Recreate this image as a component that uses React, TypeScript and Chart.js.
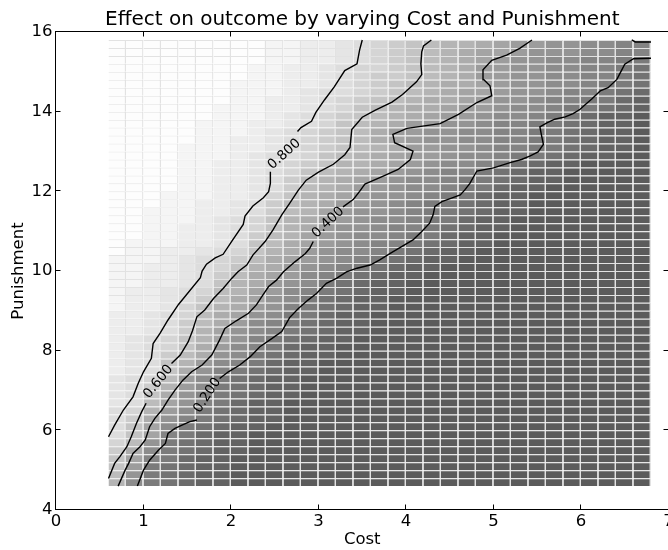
import { useEffect, useRef } from 'react';
import { Chart, registerables } from 'chart.js';

Chart.register(...registerables);

// ---- data -------------------------------------------------------------
const costEdges = [0.6, 0.8, 1.0, 1.2, 1.4, 1.6, 1.8, 2.0, 2.2, 2.4, 2.6, 2.8, 3.0, 3.2, 3.4, 3.6, 3.8, 4.0, 4.2, 4.4, 4.6, 4.8, 5.0, 5.2, 5.4, 5.6, 5.8, 6.0, 6.2, 6.4, 6.6, 6.8];
const punishmentEdges = [4.6, 4.8, 5.0, 5.2, 5.4, 5.6, 5.8, 6.0, 6.2, 6.4, 6.6, 6.8, 7.0, 7.2, 7.4, 7.6, 7.8, 8.0, 8.2, 8.4, 8.6, 8.8, 9.0, 9.2, 9.4, 9.6, 9.8, 10.0, 10.2, 10.4, 10.6, 10.8, 11.0, 11.2, 11.4, 11.6, 11.8, 12.0, 12.2, 12.4, 12.6, 12.8, 13.0, 13.2, 13.4, 13.6, 13.8, 14.0, 14.2, 14.4, 14.6, 14.8, 15.0, 15.2, 15.4, 15.6, 15.8];

// outcome level per cell, one character per cost column (spaces only group by 5),
// 0..k = 0.00..1.00 in steps of 0.05
const outcomeCodes = '0123456789abcdefghijk';
// rows from Punishment 4.6 (bottom) up to 15.6 (top)
const outcomeRows = [
  'b6432 11000 00000 00000 00000 00000 0',
  'c7432 11000 00000 00000 00000 00000 0',
  'd8432 11000 00000 00000 00000 00000 0',
  'd9542 11000 00000 00000 00000 00000 0',
  'ea643 21100 00000 00000 00000 00000 0',
  'fc743 21100 00000 00000 00000 00000 0',
  'gd954 21100 00000 00000 00000 00000 0',
  'gd964 32110 00000 00000 00000 00000 0',
  'gea75 43211 00000 00000 00000 00000 0',
  'gfb86 43211 00000 00000 00000 00000 0',
  'hgc97 54211 00000 00000 00000 00000 0',
  'hgda7 54321 10000 00000 00000 00000 0',
  'hgeb8 64321 10000 00000 00000 00000 0',
  'hgfc8 64321 10000 00000 00000 00000 0',
  'ihgda 75432 11000 00000 00000 00000 0',
  'ihgdb 86542 11000 00000 00000 00000 0',
  'ihgec a7643 21100 00000 00000 00000 0',
  'ihgfd a8654 21100 00000 00000 00000 0',
  'ihgfd b9754 32110 00000 00000 00000 0',
  'iihge b9765 43211 00000 00000 00000 0',
  'iihge ca865 43211 00000 00000 00000 0',
  'iihgf ca976 44211 00000 00000 00000 0',
  'jiihf dba87 54321 10000 00000 00000 0',
  'jiihg eca97 64321 10000 00000 00000 0',
  'jiihg fcb98 65432 11000 00000 00000 0',
  'jjiih gdba8 76432 11000 00000 00000 0',
  'jjiih geca9 86543 21100 00000 00000 0',
  'jjiih gfdba 87654 32110 00000 00000 0',
  'jjjih gfeca 98765 43211 00000 00000 0',
  'kjjii hgfdb a8766 54321 10000 00000 0',
  'kjjji ihgdc a9876 55432 11000 00000 0',
  'kkjji ihgec b9876 65442 11000 00000 0',
  'kkjji ihgfd ba877 65543 21100 00000 0',
  'kkjjj ihgfd ba987 66544 21100 00000 0',
  'kkjjj iihge cb987 76544 32110 00000 0',
  'kkkjj iihge cba88 76544 32110 00000 0',
  'kkkjj jiihf dba98 77654 42110 00000 0',
  'kkkkj jiihg ecba8 87665 44211 00000 0',
  'kkkkj jiihg ecba9 87665 44321 10000 0',
  'kkkkj jiihg fdcba 98765 54321 10000 0',
  'kkkkj jiihg fedbb a9876 65432 11000 0',
  'kkkkj jjihg gfdcb a9887 66544 32110 0',
  'kkkkj jjiih gfedc ba887 76554 43211 0',
  'kkkkk jjiih gfedc a9877 66554 43211 0',
  'kkkkk jjjih gfedc a8877 66554 43211 0',
  'kkkkk jjjii hgfdc ba887 76554 43211 0',
  'kkkkk kjjji hgfed cba98 87665 44211 0',
  'kkkkk kjjji ihgfd cbaa9 88766 54432 1',
  'kkkkk kkjji ihgfe dcbaa 98776 55442 1',
  'kkkkk kkjjj ihggf edcba 99877 65543 2',
  'kkkkk kkjjj iihgf edcba a9877 66544 3',
  'kkkkk kkkjj iihgf eedcb a8877 66554 3',
  'kkkkk kkkjj iihgf fedcb a8877 66554 3',
  'kkkkk kkkkj jiihg fedcb a9877 66554 4',
  'kkkkk kkkkj jiihg fedcb a9987 77665 5',
  'kkkkk kkkkj jiihg fedcb ba988 77665 5',
];

// contour lines [cost, punishment], split where the inline labels sit
const contour080Lower = [[0.60, 5.84], [0.67, 6.13], [0.77, 6.51], [0.88, 6.84], [0.94, 7.18], [1.00, 7.47], [1.09, 7.81], [1.11, 8.18], [1.19, 8.44], [1.28, 8.77], [1.40, 9.16], [1.65, 9.83], [1.67, 10.0], [1.72, 10.17], [1.82, 10.33], [1.91, 10.42], [2.01, 10.75], [2.14, 11.17], [2.16, 11.38], [2.25, 11.63], [2.37, 11.84], [2.43, 11.99], [2.45, 12.2], [2.45, 12.49]];
const contour080Upper = [[2.76, 13.5], [2.80, 13.6], [2.92, 13.76], [2.97, 13.98], [3.07, 14.3], [3.18, 14.62], [3.30, 15.03], [3.44, 15.2], [3.47, 15.55], [3.50, 15.8]];
const contour060Lower = [[0.60, 4.79], [0.67, 5.17], [0.73, 5.34], [0.81, 5.59], [0.86, 5.84], [0.92, 6.18], [0.98, 6.47], [1.03, 6.68]];
const contour060Upper = [[1.32, 7.68], [1.42, 7.89], [1.51, 8.22], [1.56, 8.5], [1.61, 8.85], [1.70, 9.02], [1.80, 9.31], [1.91, 9.56], [2.01, 9.82], [2.08, 9.98], [2.18, 10.15], [2.25, 10.40], [2.39, 10.74], [2.48, 11.03], [2.58, 11.41], [2.67, 11.70], [2.77, 12.03], [2.86, 12.28], [3.00, 12.48], [3.17, 12.68], [3.30, 12.92], [3.36, 13.1], [3.38, 13.55], [3.50, 13.86], [3.65, 14.04], [3.84, 14.24], [3.96, 14.43], [4.12, 14.75], [4.18, 14.93], [4.17, 15.2], [4.18, 15.5], [4.20, 15.65], [4.29, 15.8]];
const contour040Lower = [[0.71, 4.6], [0.79, 5.0], [0.83, 5.17], [0.88, 5.42], [0.96, 5.59], [1.02, 5.76], [1.07, 6.09], [1.13, 6.30], [1.21, 6.51], [1.28, 6.76], [1.36, 7.01], [1.45, 7.26], [1.55, 7.47], [1.67, 7.64], [1.78, 7.89], [1.87, 8.27], [1.93, 8.56], [2.06, 8.75], [2.20, 8.94], [2.29, 9.15], [2.35, 9.35], [2.43, 9.61], [2.52, 9.77], [2.60, 9.98], [2.73, 10.23], [2.85, 10.44], [2.90, 10.57], [2.94, 10.74]];
const contour040Upper = [[3.28, 11.61], [3.40, 11.8], [3.47, 12.0], [3.53, 12.18], [3.74, 12.38], [3.91, 12.55], [4.05, 12.80], [4.08, 13.01], [3.87, 13.22], [3.85, 13.43], [4.01, 13.58], [4.39, 13.70], [4.60, 13.93], [4.81, 14.23], [4.98, 14.40], [4.96, 14.65], [4.89, 14.80], [4.88, 15.05], [4.98, 15.29], [5.15, 15.42], [5.30, 15.59], [5.44, 15.8]];
const contour020Lower = [[0.93, 4.6], [1.00, 5.0], [1.07, 5.25], [1.17, 5.5], [1.25, 5.67], [1.28, 5.92], [1.36, 6.05], [1.44, 6.13], [1.53, 6.22], [1.61, 6.26]];
const contour020Upper = [[1.87, 7.30], [1.97, 7.47], [2.10, 7.64], [2.22, 7.85], [2.33, 8.10], [2.47, 8.31], [2.58, 8.48], [2.67, 8.83], [2.77, 9.06], [2.88, 9.27], [2.98, 9.44], [3.09, 9.69], [3.21, 9.82], [3.32, 9.98], [3.44, 10.07], [3.59, 10.15], [3.70, 10.28], [3.82, 10.44], [3.95, 10.61], [4.08, 10.78], [4.18, 10.99], [4.27, 11.20], [4.31, 11.41], [4.33, 11.62], [4.41, 11.74], [4.52, 11.83], [4.62, 11.91], [4.67, 12.03], [4.73, 12.2], [4.81, 12.51], [5.00, 12.59], [5.19, 12.72], [5.32, 12.80], [5.42, 12.89], [5.51, 12.99], [5.57, 13.18], [5.55, 13.39], [5.53, 13.62], [5.61, 13.72], [5.70, 13.81], [5.82, 13.87], [5.91, 13.95], [5.99, 14.06], [6.05, 14.18], [6.12, 14.31], [6.18, 14.44], [6.22, 14.52], [6.31, 14.60], [6.41, 14.81], [6.45, 14.98], [6.50, 15.19], [6.60, 15.33], [6.80, 15.34]];
const contour020Corner = [[6.58, 15.8], [6.62, 15.75], [6.80, 15.75]];

const contourLabelText = ['0.800', '0.600', '0.400', '0.200'];
const contourLabelCost = [2.61, 1.17, 3.11, 1.73];
const contourLabelPunishment = [12.93, 7.22, 11.22, 6.88];
const contourLabelAngle = [-42, -51, -43, -57];

const xTicks = [0, 1, 2, 3, 4, 5, 6, 7];
const yTicks = [4, 6, 8, 10, 12, 14, 16];

// ---- helpers ----------------------------------------------------------
const FONT = '"DejaVu Sans", "Liberation Sans", sans-serif';

function shade(v: number) {
  const g = Math.round(91 + 162 * v);
  return `rgb(${g},${g},${g})`;
}

function buildCells() {
  const data: { x: number; y: [number, number] }[] = [];
  const colors: string[] = [];
  const bad: string[] = [];
  outcomeRows.forEach((raw, i) => {
    const row = raw.replace(/ /g, '');
    if (row.length !== costEdges.length - 1) bad.push(i + ':' + row.length);
    for (let j = 0; j < row.length; j++) {
      const v = outcomeCodes.indexOf(row[j]) / 20;
      data.push({ x: (costEdges[j] + costEdges[j + 1]) / 2, y: [punishmentEdges[i], punishmentEdges[i + 1]] });
      colors.push(shade(v));
    }
  });
  if (bad.length) throw new Error('bad rows ' + bad.join(','));
  return { data, colors };
}

function lineDataset(points: number[][]) {
  return {
    type: 'line' as const,
    data: points.map(([x, y]) => ({ x, y })),
    borderColor: '#000',
    borderWidth: 1.4,
    pointRadius: 0,
    fill: false,
    tension: 0,
    order: 0,
  };
}

const frameTicks = {
  id: 'frameTicks',
  afterDraw(chart: any) {
    const { ctx, chartArea: a, scales } = chart;
    const xs = scales.x;
    const ys = scales.y;
    const L = Math.round(a.left) - 0.5;
    const R = Math.round(a.right) - 0.5;
    const T = Math.round(a.top) - 0.5;
    const B = Math.round(a.bottom) - 0.5;
    ctx.save();
    ctx.strokeStyle = '#000';
    ctx.lineWidth = 1;
    ctx.strokeRect(L, T, R - L, B - T);
    const len = 5;
    ctx.beginPath();
    xTicks.forEach((t) => {
      const px = Math.round(xs.getPixelForValue(t)) - 0.5;
      ctx.moveTo(px, B);
      ctx.lineTo(px, B - len);
      ctx.moveTo(px, T);
      ctx.lineTo(px, T + len);
    });
    yTicks.forEach((t) => {
      const py = Math.round(ys.getPixelForValue(t)) - 0.5;
      ctx.moveTo(L, py);
      ctx.lineTo(L + len, py);
      ctx.moveTo(R, py);
      ctx.lineTo(R - len, py);
    });
    ctx.stroke();
    ctx.restore();
  },
};

const contourLabels = {
  id: 'contourLabels',
  afterDatasetsDraw(chart: any) {
    const { ctx, scales } = chart;
    ctx.save();
    ctx.fillStyle = '#000';
    ctx.font = `13.5px ${FONT}`;
    ctx.textAlign = 'center';
    ctx.textBaseline = 'middle';
    contourLabelText.forEach((txt, k) => {
      const px = scales.x.getPixelForValue(contourLabelCost[k]);
      const py = scales.y.getPixelForValue(contourLabelPunishment[k]);
      ctx.save();
      ctx.translate(px, py);
      ctx.rotate((contourLabelAngle[k] * Math.PI) / 180);
      ctx.fillText(txt, 0, 0);
      ctx.restore();
    });
    ctx.restore();
  },
};

export default function App() {
  const ref = useRef<HTMLCanvasElement>(null);
  useEffect(() => {
    document.body.style.margin = '0';
    const canvas = ref.current;
    if (!canvas) return;
    const { data, colors } = buildCells();
    const chart = new Chart(canvas, {
      type: 'bar',
      data: {
        datasets: [
          lineDataset(contour080Lower),
          lineDataset(contour080Upper),
          lineDataset(contour060Lower),
          lineDataset(contour060Upper),
          lineDataset(contour040Lower),
          lineDataset(contour040Upper),
          lineDataset(contour020Lower),
          lineDataset(contour020Upper),
          lineDataset(contour020Corner),
          {
            type: 'bar',
            data: data as any,
            backgroundColor: colors,
            borderColor: '#e2e2e2',
            borderWidth: { top: 1, right: 1.4, bottom: 0, left: 0 },
            borderSkipped: false,
            inflateAmount: 0,
            barPercentage: 1,
            categoryPercentage: 1,
            order: 10,
          } as any,
        ],
      },
      options: {
        responsive: false,
        animation: false,
        devicePixelRatio: 1,
        events: [],
        layout: { padding: { left: 0, right: 11.5, top: 0, bottom: 0 } },
        plugins: {
          legend: { display: false },
          tooltip: { enabled: false },
          title: {
            display: true,
            text: 'Effect on outcome by varying Cost and Punishment',
            color: '#000',
            font: { family: FONT, size: 20, weight: 'normal', lineHeight: 1.1 },
            padding: { top: 9, bottom: 1 },
            fullSize: false,
          },
        },
        scales: {
          x: {
            type: 'linear',
            min: 0,
            max: 7,
            offset: false,
            afterBuildTicks: (s: any) => { s.ticks = xTicks.map((v) => ({ value: v })); },
            afterFit: (s: any) => { s.height = 40; },
            grid: { display: false, drawTicks: false },
            border: { display: false },
            ticks: { color: '#000', font: { family: FONT, size: 16.5 }, padding: 2, autoSkip: false, maxRotation: 0 },
            title: { display: true, text: 'Cost', color: '#000', font: { family: FONT, size: 16.5 }, padding: { top: 0, bottom: 0 } },
          },
          y: {
            type: 'linear',
            min: 4,
            max: 16,
            afterBuildTicks: (s: any) => { s.ticks = yTicks.map((v) => ({ value: v })); },
            afterFit: (s: any) => { s.width = 56; },
            grid: { display: false, drawTicks: false },
            border: { display: false },
            ticks: { color: '#000', font: { family: FONT, size: 16.5 }, padding: 3.5, autoSkip: false },
            title: { display: true, text: 'Punishment', color: '#000', font: { family: FONT, size: 16.5 }, padding: { top: 9, bottom: 0 } },
          },
        },
      } as any,
      plugins: [frameTicks, contourLabels],
    });
    return () => chart.destroy();
  }, []);
  return (
    <div style={{ position: 'fixed', left: 0, top: 0, width: 668, height: 550, overflow: 'hidden', background: '#fff' }}>
      <canvas ref={ref} width={680} height={550} style={{ display: 'block', width: 680, height: 550 }} />
    </div>
  );
}
